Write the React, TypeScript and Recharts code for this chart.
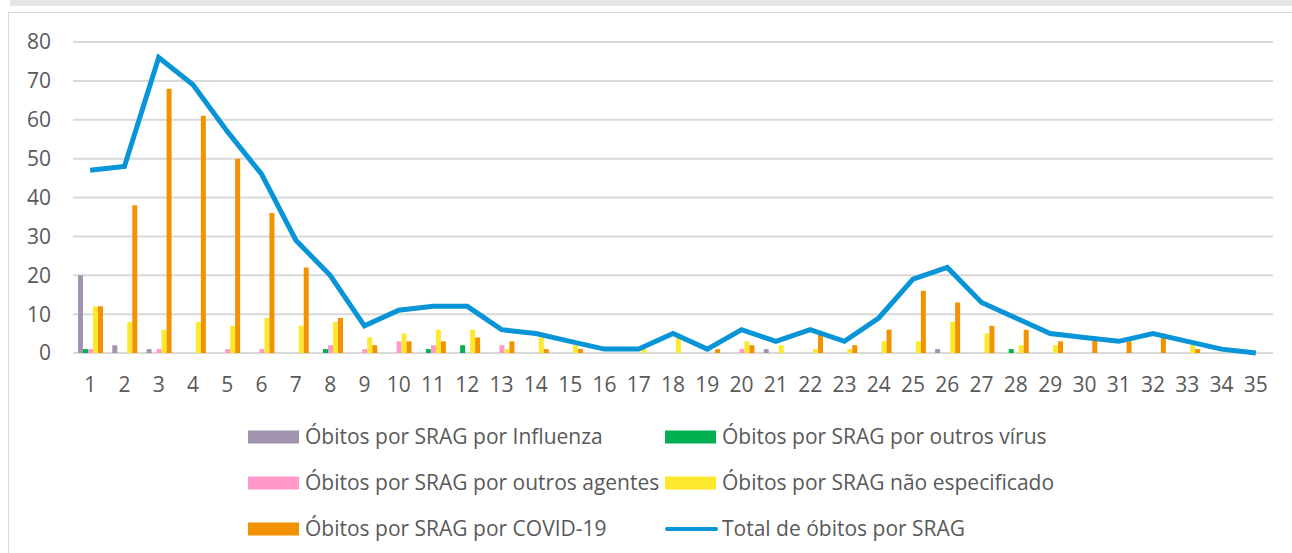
import React from 'react';
import { ComposedChart, Bar, Line, XAxis, YAxis, CartesianGrid, Legend } from 'recharts';

const weeks = Array.from({ length: 35 }, (_, i) => String(i + 1));

const influenza = [20, 2, 1, 0, 0, 0, 0, 0, 0, 0, 0, 0, 0, 0, 0, 0, 0, 0, 0, 0, 1, 0, 0, 0, 0, 1, 0, 0, 0, 0, 0, 0, 0, 0, 0];
const outrosVirus = [1, 0, 0, 0, 0, 0, 0, 1, 0, 0, 1, 2, 0, 0, 0, 0, 0, 0, 0, 0, 0, 0, 0, 0, 0, 0, 0, 1, 0, 0, 0, 0, 0, 0, 0];
const outrosAgentes = [1, 0, 1, 0, 1, 1, 0, 2, 1, 3, 2, 0, 2, 0, 0, 0, 0, 0, 0, 1, 0, 0, 0, 0, 0, 0, 0, 0, 0, 0, 0, 0, 0, 0, 0];
const naoEspecificado = [12, 8, 6, 8, 7, 9, 7, 8, 4, 5, 6, 6, 1, 4, 2, 0, 1, 4, 0, 3, 2, 1, 1, 3, 3, 8, 5, 2, 2, 0, 0, 0, 2, 0, 0];
const covid = [12, 38, 68, 61, 50, 36, 22, 9, 2, 3, 3, 4, 3, 1, 1, 0, 0, 0, 1, 2, 0, 5, 2, 6, 16, 13, 7, 6, 3, 4, 3, 5, 1, 0, 0];
const total = [47, 48, 76, 69, 57, 46, 29, 20, 7, 11, 12, 12, 6, 5, 3, 1, 1, 5, 1, 6, 3, 6, 3, 9, 19, 22, 13, 9, 5, 4, 3, 5, 3, 1, 0];

const yTicks = [0, 10, 20, 30, 40, 50, 60, 70, 80];

const data = weeks.map((w, i) => ({
  semana: w,
  influenza: influenza[i],
  outrosVirus: outrosVirus[i],
  outrosAgentes: outrosAgentes[i],
  naoEspecificado: naoEspecificado[i],
  covid: covid[i],
  total: total[i],
}));

const COLORS = {
  influenza: '#a293ae',
  outrosVirus: '#00b050',
  outrosAgentes: '#ff99cc',
  naoEspecificado: '#fde82e',
  covid: '#f39200',
  total: '#0795d8',
};

const FONT = '"Open Sans", sans-serif';
const TEXT = '#595959';

const legendItems = [
  { label: 'Óbitos por SRAG por Influenza', color: COLORS.influenza, col: 0, row: 0 },
  { label: 'Óbitos por SRAG por outros vírus', color: COLORS.outrosVirus, col: 1, row: 0 },
  { label: 'Óbitos por SRAG por outros agentes', color: COLORS.outrosAgentes, col: 0, row: 1 },
  { label: 'Óbitos por SRAG não especificado', color: COLORS.naoEspecificado, col: 1, row: 1 },
  { label: 'Óbitos por SRAG por COVID-19', color: COLORS.covid, col: 0, row: 2 },
  { label: 'Total de óbitos por SRAG', color: COLORS.total, col: 1, row: 2, line: true },
];

function CustomLegend() {
  return (
    <svg width={1292} height={130} style={{ display: 'block' }}>
      {legendItems.map((it) => {
        const x = it.col === 0 ? 248 : 665;
        const cy = 17 + it.row * 46;
        return (
          <g key={it.label}>
            {it.line ? (
              <line x1={x + 2} x2={x + 51} y1={cy} y2={cy} stroke={it.color} strokeWidth={4} strokeLinecap="round" />
            ) : (
              <rect x={x} y={cy - 6.5} width={51} height={13} fill={it.color} />
            )}
            <text x={x + 57} y={cy} dy="0.35em" fontSize={21} fill={TEXT} fontFamily={FONT}>
              {it.label}
            </text>
          </g>
        );
      })}
    </svg>
  );
}

export default function App() {
  return (
    <div style={{ position: 'absolute', left: 0, top: 0, width: 1292, height: 553, background: '#fff', overflow: 'hidden' }}>
      <div style={{ position: 'absolute', left: 10, top: 0, width: 1282, height: 6, background: '#e6e6e6' }} />
      <div style={{ position: 'absolute', left: 8, top: 12, width: 1300, height: 560, border: '1px solid #d9d9d9', boxSizing: 'border-box' }} />
      <div style={{ position: 'absolute', left: 0, top: 0 }}>
        <ComposedChart
          width={1292}
          height={553}
          data={data}
          margin={{ top: 42, right: 19, left: 0, bottom: 160 }}
          barGap={0}
          barSize={5}
        >
          <CartesianGrid vertical={false} stroke="#d9d9d9" strokeWidth={2} />
          <XAxis
            dataKey="semana"
            axisLine={false}
            tickLine={false}
            tickSize={0}
            tickMargin={24}
            height={40}
            interval={0}
            tick={{ fill: TEXT, fontSize: 21, fontFamily: FONT }}
          />
          <YAxis
            domain={[0, 80]}
            ticks={yTicks}
            axisLine={false}
            tickLine={false}
            tickSize={0}
            tickMargin={22}
            width={73}
            tick={{ fill: TEXT, fontSize: 21, fontFamily: FONT }}
          />
          <Legend
            layout="vertical"
            align="center"
            verticalAlign="middle"
            wrapperStyle={{ left: 0, top: 420, width: 1292, height: 130 }}
            content={() => <CustomLegend />}
          />
          <Bar dataKey="influenza" fill={COLORS.influenza} isAnimationActive={false} />
          <Bar dataKey="outrosVirus" fill={COLORS.outrosVirus} isAnimationActive={false} />
          <Bar dataKey="outrosAgentes" fill={COLORS.outrosAgentes} isAnimationActive={false} />
          <Bar dataKey="naoEspecificado" fill={COLORS.naoEspecificado} isAnimationActive={false} />
          <Bar dataKey="covid" fill={COLORS.covid} isAnimationActive={false} />
          <Line
            type="linear"
            dataKey="total"
            stroke={COLORS.total}
            strokeWidth={5}
            dot={false}
            isAnimationActive={false}
          />
        </ComposedChart>
      </div>
    </div>
  );
}
